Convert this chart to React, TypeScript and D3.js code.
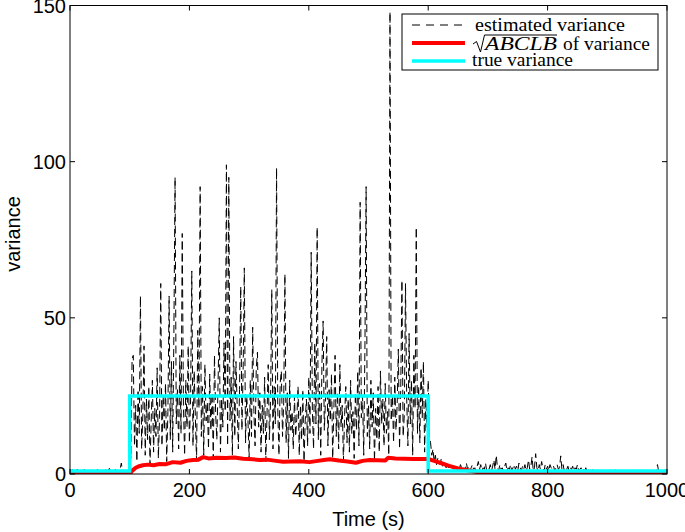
import React from "react";
import * as d3 from "d3";

// ---------- data ----------
const estStart = 0;
const estStep = 2; // seconds between samples
// estimated variance, t = 0, 2, 4, ..., 1000
const estimatedVariance: number[] = [
  // 0-98
  1, 0.6, 1.4, 0.8, 1.2, 0.5, 1.6, 0.9, 1.1, 0.7,
  1.3, 0.6, 1.5, 1, 0.8, 1.7, 0.5, 1.2, 0.9, 1.4,
  0.7, 1.1, 0.6, 1.5, 1, 0.8, 1.3, 0.5, 1.2, 0.9,
  1.4, 0.7, 1.1, 1.8, 0.6, 1, 1.3, 0.8, 1.5, 0.9,
  1.2, 0.7, 1.6, 3.5, 0.8, 1.3, 0.6, 1.1, 1.4, 0.9,
  // 100-198
  12, 5, 37, 38, 9, 22, 4, 27, 13, 57,
  8, 19, 41, 6, 24, 11, 28, 3, 17, 30,
  7, 21, 12, 34, 5, 18, 61, 9, 25, 14,
  29, 4, 20, 57, 11, 36, 7, 45, 95, 16,
  27, 8, 38, 13, 77, 22, 6, 30, 15, 41,
  // 200-298
  10, 24, 65, 9, 33, 18, 4, 46, 21, 92,
  12, 28, 6, 35, 17, 23, 8, 32, 14, 26,
  5, 38, 19, 11, 29, 50, 7, 24, 15, 42,
  20, 99, 9, 95, 17, 31, 6, 44, 12, 36,
  22, 8, 27, 60, 14, 33, 66, 10, 25, 18,
  // 300-398
  5, 30, 12, 47, 20, 9, 34, 39, 15, 26,
  7, 22, 13, 31, 4, 19, 35, 11, 24, 59,
  8, 28, 16, 98, 21, 6, 29, 33, 12, 23,
  64, 10, 26, 5, 30, 14, 20, 8, 25, 12,
  18, 28, 6, 22, 11, 27, 4, 17, 24, 9,
  // 400-498
  31, 13, 71, 20, 8, 42, 16, 79, 11, 29,
  6, 35, 49, 14, 24, 44, 9, 27, 17, 32,
  5, 21, 38, 12, 26, 8, 35, 15, 22, 4,
  19, 28, 10, 24, 7, 30, 13, 20, 5, 26,
  14, 33, 9, 87, 18, 25, 6, 40, 92, 12,
  // 500-598
  22, 8, 30, 15, 26, 4, 21, 11, 28, 7,
  33, 16, 24, 9, 29, 13, 20, 6, 148, 17,
  25, 10, 31, 14, 22, 40, 8, 27, 62, 12,
  19, 61, 24, 9, 45, 16, 30, 6, 38, 21,
  79, 13, 28, 10, 34, 18, 36, 7, 24, 15,
  // 600-698
  30, 12, 10, 6, 8, 4, 6, 3, 5, 4,
  3, 5, 2.5, 4, 3, 2, 3.5, 2, 3, 1.5,
  2.5, 1.5, 3, 2, 1, 2.5, 1.5, 3, 2, 1.5,
  2, 1, 3.5, 1.5, 2.5, 1, 2, 3, 1.5, 2,
  1, 2.5, 4, 1.5, 3, 1, 2, 1.5, 3.5, 1,
  // 700-798
  2, 1.5, 3, 1, 2.5, 4.5, 1.5, 6, 2, 1,
  3, 1.5, 2, 1, 2.5, 3.5, 1, 2, 1.5, 3,
  1, 2, 3, 1.5, 2.5, 1, 3.5, 2, 1, 2.5,
  1.5, 3, 1, 2, 4.5, 1.5, 2.5, 5.5, 1, 2,
  6.5, 2, 1, 3, 1.5, 4, 2, 1, 3, 1.5,
  // 800-898
  2.5, 1, 3, 2, 1.5, 2.5, 1, 2, 3, 1.5,
  2, 5.8, 1.5, 3, 1, 2, 1.5, 2.5, 1, 2,
  1.5, 2.5, 1, 2, 1.5, 3, 1, 1.5, 2, 1,
  1.5, 1, 2, 0.8, 1.5, 1, 1.2, 0.7, 1.4, 0.9,
  1, 0.6, 1.3, 0.8, 1.1, 0.5, 1.2, 0.9, 0.7, 1,
  // 900-1000
  0.8, 1.1, 0.6, 1.2, 0.9, 0.5, 1, 1.3, 0.7, 1,
  0.6, 1.2, 0.8, 1.1, 0.5, 0.9, 1.3, 0.7, 1, 0.6,
  1.1, 0.8, 1.4, 0.6, 1, 0.7, 1.2, 0.9, 0.5, 1.1,
  0.8, 1.3, 0.6, 1, 0.9, 1.2, 0.7, 1.1, 0.6, 1,
  0.8, 1.2, 3, 0.9, 0.7, 1.1, 0.6, 1, 0.8, 1.2,
  0.9,
];

// sqrt(ABCLB) of variance
const boundTimes = [0, 100, 104, 110, 116, 122, 130, 140, 150, 160, 172, 185, 195, 206, 215, 223, 232, 245, 262, 275, 290, 300, 318, 330, 345, 357, 370, 385, 401, 415, 425, 435, 450, 465, 479, 490, 502, 515, 528, 533, 545, 560, 575, 591, 600, 610, 620, 635, 650, 665, 680, 700, 720, 750, 800, 1000];
const boundValues = [0, 0, 1, 2, 2.5, 2.8, 3.0, 2.8, 3.2, 3.1, 3.8, 3.6, 4.2, 4.5, 4.6, 5.4, 5.0, 5.2, 5.1, 5.3, 4.9, 4.8, 4.5, 4.6, 4.2, 3.9, 4.0, 4.1, 3.8, 4.2, 4.5, 4.7, 4.3, 4.0, 3.6, 4.2, 4.5, 4.4, 4.3, 5.2, 5.0, 4.9, 4.8, 4.8, 4.8, 4.2, 3.6, 2.6, 1.8, 1.2, 0.7, 0.35, 0.15, 0.05, 0, 0];

// true variance (step function)
const trueTimes = [0, 100, 600, 1000];
const trueValues = [1, 25, 1, 1];

const xTicks = [0, 200, 400, 600, 800, 1000];
const yTicks = [0, 50, 100, 150];

const legendLabels = ["estimated variance", "ABCLB", "of variance", "true variance"];

// ---------- layout ----------
const W = 685;
const H = 532;
const left = 70;
const right = 667;
const top = 5.5;
const bottom = 474;

export default function App() {
  const x = d3.scaleLinear().domain([0, 1000]).range([left, right]);
  const y = d3.scaleLinear().domain([0, 150]).range([bottom, top]);

  const estPts: [number, number][] = estimatedVariance.map((v, i) => [estStart + i * estStep, v]);
  const line = d3
    .line<[number, number]>()
    .x((d) => x(d[0]))
    .y((d) => y(d[1]));
  const estPath = line(estPts) || "";
  const boundPath = line(boundTimes.map((t, i) => [t, boundValues[i]] as [number, number])) || "";
  const truePath =
    d3
      .line<[number, number]>()
      .x((d) => x(d[0]))
      .y((d) => y(d[1]))
      .curve(d3.curveStepAfter)(trueTimes.map((t, i) => [t, trueValues[i]] as [number, number])) || "";

  const sans = "'Liberation Sans', Arial, Helvetica, sans-serif";
  const serif = "'Liberation Serif', 'Times New Roman', serif";
  const tickLen = 5;

  return (
    <svg
      width={W}
      height={H}
      viewBox={`0 0 ${W} ${H}`}
      style={{ position: "absolute", left: 0, top: 0, background: "#fff" }}
    >
      <defs>
        <clipPath id="plotClip">
          <rect x={left} y={top} width={right - left} height={bottom - top} />
        </clipPath>
      </defs>
      <rect x={0} y={0} width={W} height={H} fill="#fff" />

      <g clipPath="url(#plotClip)">
        <path d={estPath} fill="none" stroke="#000" strokeWidth={1} strokeDasharray="8,4" />
        <path d={boundPath} fill="none" stroke="#ff0000" strokeWidth={4} strokeLinejoin="round" />
        <path d={truePath} fill="none" stroke="#00ffff" strokeWidth={3.5} />
      </g>

      {/* axes box */}
      <rect x={left} y={top} width={right - left} height={bottom - top} fill="none" stroke="#000" strokeWidth={1} />

      {/* x ticks */}
      {xTicks.map((t) => (
        <g key={"x" + t}>
          <line x1={x(t)} x2={x(t)} y1={bottom} y2={bottom - tickLen} stroke="#000" />
          <line x1={x(t)} x2={x(t)} y1={top} y2={top + tickLen} stroke="#000" />
          <text x={x(t)} y={497} textAnchor="middle" fontFamily={sans} fontSize={20} fill="#000">
            {t}
          </text>
        </g>
      ))}
      {/* y ticks */}
      {yTicks.map((v) => (
        <g key={"y" + v}>
          <line x1={left} x2={left + tickLen} y1={y(v)} y2={y(v)} stroke="#000" />
          <line x1={right} x2={right - tickLen} y1={y(v)} y2={y(v)} stroke="#000" />
          <text x={66} y={y(v) + 7} textAnchor="end" fontFamily={sans} fontSize={20} fill="#000">
            {v}
          </text>
        </g>
      ))}

      {/* axis labels */}
      <text x={(left + right) / 2} y={526} textAnchor="middle" fontFamily={sans} fontSize={20} fill="#000">
        Time (s)
      </text>
      <text
        transform={`translate(20, ${234}) rotate(-90)`}
        textAnchor="middle"
        fontFamily={sans}
        fontSize={20}
        fill="#000"
      >
        variance
      </text>

      {/* legend */}
      <g>
        <rect x={402} y={14} width={256} height={56} fill="#fff" stroke="#000" strokeWidth={1} />
        <line x1={412} x2={465} y1={25} y2={25} stroke="#000" strokeWidth={1} strokeDasharray="8,6" />
        <line x1={412} x2={465} y1={43} y2={43} stroke="#ff0000" strokeWidth={4} />
        <line x1={412} x2={465} y1={61} y2={61} stroke="#00ffff" strokeWidth={3.5} />
        <text x={475} y={31} fontFamily={serif} fontSize={18} fill="#000" textLength={150} lengthAdjust="spacingAndGlyphs">
          {legendLabels[0]}
        </text>
        <path d="M473,44 L476.5,41.5 L480.5,52 L484.5,35 L557,35" fill="none" stroke="#000" strokeWidth={1} />
        <text x={485} y={50} fontFamily={serif} fontStyle="italic" fontSize={18} fill="#000" textLength={72} lengthAdjust="spacingAndGlyphs">
          {legendLabels[1]}
        </text>
        <text x={563} y={50} fontFamily={serif} fontSize={18} fill="#000" textLength={87} lengthAdjust="spacingAndGlyphs">
          {legendLabels[2]}
        </text>
        <text x={472} y={66} fontFamily={serif} fontSize={18} fill="#000" textLength={101} lengthAdjust="spacingAndGlyphs">
          {legendLabels[3]}
        </text>
      </g>
    </svg>
  );
}
